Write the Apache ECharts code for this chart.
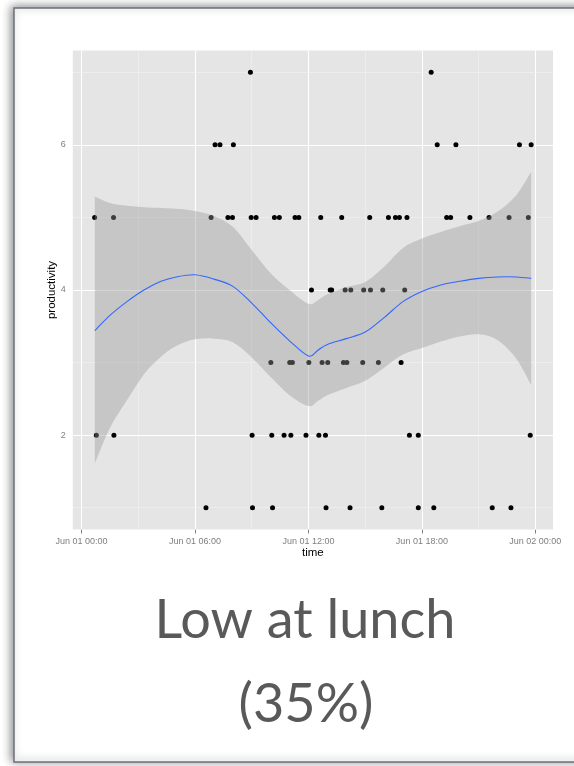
<!DOCTYPE html>
<html>
<head>
<meta charset="utf-8">
<script src="https://cdn.jsdelivr.net/npm/echarts@6/dist/echarts.min.js"></script>
<style>
html,body{margin:0;padding:0;background:#fff;}
#chart{width:574px;height:766px;}
</style>
</head>
<body>
<div id="chart"></div>
<script>
// ---- data: observations (time in hours since Jun 01 00:00, productivity level)
const hoursAt1 = [6.58, 9.04, 10.10, 12.93, 14.20, 15.88, 17.81, 18.63, 21.72, 22.71];
const hoursAt2 = [0.78, 1.71, 9.02, 10.06, 10.71, 11.07, 11.87, 12.55, 12.90, 17.34, 17.81, 23.73];
const hoursAt3 = [10.01, 11.01, 11.15, 12.02, 12.72, 13.02, 13.85, 14.03, 14.87, 15.70, 16.90];
const hoursAt4 = [12.16, 13.15, 13.23, 13.94, 14.24, 14.92, 15.28, 15.93, 17.09];
const hoursAt5 = [0.69, 1.69, 6.85, 7.74, 7.98, 8.97, 9.23, 10.20, 10.46, 11.29, 11.49, 12.65, 13.76, 15.24, 16.23, 16.60, 16.81, 17.21, 19.31, 19.52, 20.54, 21.55, 22.61, 23.63];
const hoursAt6 = [7.06, 7.32, 8.03, 18.81, 19.80, 23.16, 23.78];
const hoursAt7 = [8.93, 18.49];
const levels = [1, 2, 3, 4, 5, 6, 7];

// ---- smoother (loess fit with confidence band)
const smoothHours = [0.7, 1.5, 2.4, 3.3, 4.2, 5.0, 6.0, 7.0, 8.0, 9.0, 10.0, 11.0, 12.0, 12.5, 13.0, 14.0, 15.0, 16.0, 17.0, 18.0, 19.0, 20.0, 21.0, 22.0, 23.0, 23.78];
const smoothFit   = [3.44, 3.65, 3.84, 4.00, 4.12, 4.18, 4.21, 4.15, 4.05, 3.82, 3.55, 3.30, 3.09, 3.17, 3.25, 3.33, 3.42, 3.62, 3.84, 3.98, 4.07, 4.12, 4.16, 4.18, 4.18, 4.16];
const smoothLower = [1.61, 2.10, 2.48, 2.84, 3.08, 3.23, 3.32, 3.33, 3.28, 3.07, 2.80, 2.55, 2.40, 2.47, 2.55, 2.65, 2.75, 2.93, 3.11, 3.20, 3.29, 3.36, 3.39, 3.31, 3.05, 2.69];
const smoothUpper = [5.29, 5.20, 5.16, 5.14, 5.13, 5.12, 5.09, 5.02, 4.87, 4.55, 4.23, 4.00, 3.81, 3.86, 3.94, 4.04, 4.11, 4.32, 4.58, 4.71, 4.80, 4.88, 4.95, 5.08, 5.31, 5.63];

// ---- ticks
const xTickValues = [0, 6, 12, 18, 24];
const xTickLabels = ['Jun 01 00:00', 'Jun 01 06:00', 'Jun 01 12:00', 'Jun 01 18:00', 'Jun 02 00:00'];
const xMinorValues = [3, 9, 15, 21];
const yTickValues = [2, 4, 6];
const yTickLabels = ['2', '4', '6'];
const yMinorValues = [1, 3, 5, 7];

const titleLine1 = 'Low at lunch';
const titleLine2 = '(35%)';

// build points
const hourRows = [hoursAt1, hoursAt2, hoursAt3, hoursAt4, hoursAt5, hoursAt6, hoursAt7];
const points = [];
hourRows.forEach((row, i) => row.forEach(h => points.push([h, levels[i]])));

// ggplot-like 5% expansion
const allX = points.map(p => p[0]);
const xMinD = Math.min(...allX), xMaxD = Math.max(...allX);
const xPad = (xMaxD - xMinD) * 0.05;
const yMinD = Math.min(...levels), yMaxD = Math.max(...levels);
const yPad = (yMaxD - yMinD) * 0.05;

const bandData = smoothHours.map((h, i) => [h, smoothLower[i], smoothUpper[i], smoothFit[i]]);

// Catmull-Rom through pixel points -> bezier path segments
function curvePath(pts, moveFirst) {
  let d = (moveFirst ? 'M' : 'L') + pts[0][0] + ' ' + pts[0][1];
  for (let i = 0; i < pts.length - 1; i++) {
    const p0 = pts[Math.max(0, i - 1)], p1 = pts[i], p2 = pts[i + 1], p3 = pts[Math.min(pts.length - 1, i + 2)];
    const c1x = p1[0] + (p2[0] - p0[0]) / 6, c1y = p1[1] + (p2[1] - p0[1]) / 6;
    const c2x = p2[0] - (p3[0] - p1[0]) / 6, c2y = p2[1] - (p3[1] - p1[1]) / 6;
    d += ' C' + c1x + ' ' + c1y + ' ' + c2x + ' ' + c2y + ' ' + p2[0] + ' ' + p2[1];
  }
  return d;
}

const gridLines = []
  .concat(xTickValues.map(v => ({ xAxis: v, lineStyle: { color: '#ffffff', width: 1.1, type: 'solid' } })))
  .concat(xMinorValues.map(v => ({ xAxis: v, lineStyle: { color: '#f2f2f2', width: 0.6, type: 'solid' } })))
  .concat(yTickValues.map(v => ({ yAxis: v, lineStyle: { color: '#ffffff', width: 1.1, type: 'solid' } })))
  .concat(yMinorValues.map(v => ({ yAxis: v, lineStyle: { color: '#f2f2f2', width: 0.6, type: 'solid' } })));

const chart = echarts.init(document.getElementById('chart'), null, { renderer: 'canvas' });
chart.setOption({
  animation: false,
  backgroundColor: '#ffffff',
  graphic: [
    {
      type: 'rect', z: -100, silent: true,
      shape: { x: 14, y: 8, width: 620, height: 754 },
      style: { fill: '#ffffff', stroke: '#6a707c', lineWidth: 1.5,
               shadowBlur: 9, shadowColor: 'rgba(0,0,0,0.45)', shadowOffsetX: -2, shadowOffsetY: -1 }
    },
    {
      type: 'text', z: 10, silent: true, x: 305, y: 621,
      style: { text: titleLine1, font: '54px Lato', fill: '#595959', align: 'center', verticalAlign: 'middle' }
    },
    {
      type: 'text', z: 10, silent: true, x: 306, y: 705,
      style: { text: titleLine2, font: '54px Lato', fill: '#595959', align: 'center', verticalAlign: 'middle' }
    }
  ],
  grid: {
    show: true, backgroundColor: '#e5e5e5', borderWidth: 0,
    left: 72.8, right: 21, top: 50.5, bottom: 236.5
  },
  xAxis: {
    type: 'value',
    min: xMinD - xPad, max: xMaxD + xPad,
    name: 'time', nameLocation: 'middle', nameGap: 17, nameMoveOverlap: false,
    nameTextStyle: { color: '#000', fontSize: 11.5, fontFamily: 'Liberation Sans' },
    axisLine: { show: false },
    splitLine: { show: false },
    axisTick: { show: true, customValues: xTickValues, length: 4, lineStyle: { color: '#7f7f7f', width: 1 } },
    axisLabel: {
      customValues: xTickValues, margin: 8, color: '#7f7f7f', fontSize: 9, fontFamily: 'Liberation Sans',
      formatter: v => { const i = xTickValues.findIndex(t => Math.abs(t - v) < 1e-6); return i >= 0 ? xTickLabels[i] : ''; }
    }
  },
  yAxis: {
    type: 'value',
    min: yMinD - yPad, max: yMaxD + yPad,
    name: 'productivity', nameLocation: 'middle', nameGap: 15, nameRotate: 90, nameMoveOverlap: false,
    nameTextStyle: { color: '#000', fontSize: 11.5, fontFamily: 'Liberation Sans' },
    axisLine: { show: false },
    splitLine: { show: false },
    axisTick: { show: true, customValues: yTickValues, length: 4, lineStyle: { color: '#7f7f7f', width: 1 } },
    axisLabel: {
      customValues: yTickValues, margin: 7, color: '#7f7f7f', fontSize: 9, fontFamily: 'Liberation Sans',
      formatter: v => { const i = yTickValues.findIndex(t => Math.abs(t - v) < 1e-6); return i >= 0 ? yTickLabels[i] : ''; }
    }
  },
  series: [
    {
      type: 'line', data: [], z: 1, silent: true,
      markLine: { z: 1, silent: true, symbol: ['none', 'none'], label: { show: false }, animation: false, data: gridLines }
    },
    {
      type: 'scatter', z: 2, data: points, symbol: 'circle', symbolSize: 5,
      itemStyle: { color: '#000000', opacity: 1 }, silent: true
    },
    {
      type: 'custom', z: 3, silent: true, data: bandData,
      encode: { x: 0, y: [1, 2] },
      renderItem: function (params, api) {
        if (params.dataIndex !== 0) return null;
        const up = bandData.map(r => api.coord([r[0], r[2]]));
        const lo = bandData.map(r => api.coord([r[0], r[1]])).reverse();
        const fit = bandData.map(r => api.coord([r[0], r[3]]));
        return {
          type: 'group',
          children: [
            { type: 'path', shape: { pathData: curvePath(up, true) + ' ' + curvePath(lo, false) + ' Z' },
              style: { fill: 'rgba(153,153,153,0.4)', stroke: null } },
            { type: 'path', shape: { pathData: curvePath(fit, true) },
              style: { fill: null, stroke: '#3366ff', lineWidth: 1.1 } }
          ]
        };
      }
    }
  ]
});
</script>
</body>
</html>
